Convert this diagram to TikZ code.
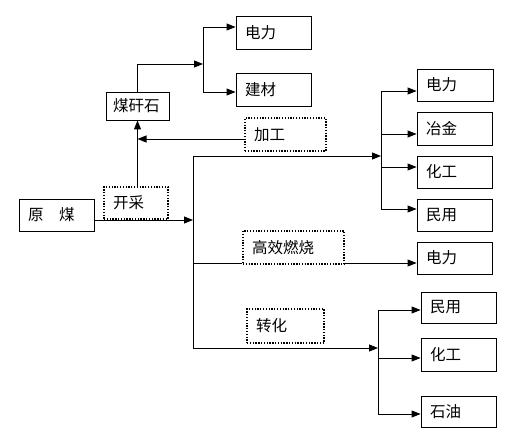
\documentclass[tikz,border=0pt]{standalone}
\usepackage{fontspec}
\setmainfont{Noto Sans CJK SC}
\usetikzlibrary{arrows.meta}
\tikzset{
  bx/.style={draw, line width=0.9pt, inner xsep=9pt, inner ysep=0pt, align=left, font=\fontsize{15.5}{17}\selectfont},
  dbx/.style={bx, line width=1.3pt, dash pattern=on 1.3pt off 1.5pt},
  ln/.style={line width=0.9pt},
  ar/.style={ln, -{Triangle[length=9pt,width=7pt]}}
}
\begin{document}
\begin{tikzpicture}[x=1pt,y=-1pt]
\useasboundingbox (0,0) rectangle (517,443);
% nodes
\node[bx, text width=57pt, minimum height=32pt] (yuan) at (56.5,215) {原\quad 煤};
\node[dbx, text width=46pt, minimum height=32pt] (kc) at (136,203) {开采};
\node[bx, text width=49pt, minimum height=28pt, inner xsep=7pt] (mgs) at (137.5,106) {煤矸石};
\node[bx, text width=57pt, minimum height=33pt] (dl1) at (273.5,32.5) {电力};
\node[bx, text width=57pt, minimum height=33pt] (jc) at (273.5,89.5) {建材};
\node[dbx, text width=63pt, minimum height=33pt] (jg) at (285.5,134.5) {加工};
\node[bx, text width=58pt, minimum height=32pt] (dl2) at (455,85) {电力};
\node[bx, text width=57pt, minimum height=33pt] (yj) at (454.5,128.5) {冶金};
\node[bx, text width=57pt, minimum height=32pt] (hg1) at (454.5,172) {化工};
\node[bx, text width=57pt, minimum height=32pt] (my1) at (454.5,215) {民用};
\node[dbx, text width=83pt, minimum height=33pt] (gx) at (293.5,247.5) {高效燃烧};
\node[bx, text width=57pt, minimum height=32pt] (dl3) at (454.5,258) {电力};
\node[dbx, text width=59pt, minimum height=34pt] (zh) at (285.5,326) {转化};
\node[bx, text width=57pt, minimum height=31pt] (my2) at (458.5,307.5) {民用};
\node[bx, text width=57pt, minimum height=33pt] (hg2) at (458.5,354.5) {化工};
\node[bx, text width=57pt, minimum height=31pt] (sy) at (458.5,411.5) {石油};
% junction coordinates
\coordinate (mA) at (193,156);
\coordinate (mB) at (193,220);
\coordinate (mC) at (193,263);
\coordinate (mD) at (193,348);
\coordinate (tA) at (381,156);
\coordinate (t1) at (381,91);
\coordinate (t2) at (381,134);
\coordinate (t3) at (381,167);
\coordinate (t4) at (381,209);
\coordinate (zA) at (378,348);
\coordinate (z1) at (378,310);
\coordinate (z2) at (378,358);
\coordinate (z3) at (378,414);
\coordinate (jA) at (203,64);
\coordinate (j1) at (203,27);
\coordinate (j2) at (203,92);
\coordinate (gy) at (245,139);
% connectors
\draw[ar] (yuan.east |- mB) -- (mB);
\draw[ln] (mA) -- (mD);
\draw[ar] (mA) -- (tA);
\draw[ln] (t1) -- (t4);
\draw[ar] (t1) -- (dl2.west |- t1);
\draw[ar] (t2) -- (yj.west |- t2);
\draw[ar] (t3) -- (hg1.west |- t3);
\draw[ar] (t4) -- (my1.west |- t4);
\draw[ln] (mC) -- (gx.west |- mC);
\draw[ar] (gx.east |- mC) -- (dl3.west |- mC);
\draw[ar] (mD) -- (zA);
\draw[ln] (z1) -- (z3);
\draw[ar] (z1) -- (my2.west |- z1);
\draw[ar] (z2) -- (hg2.west |- z2);
\draw[ar] (z3) -- (sy.west |- z3);
\draw[ar] (kc.north -| mgs.south) -- (mgs.south);
\draw[ar] (gy) -- (gy -| mgs.south);
\draw[ar] (mgs.north) -- (mgs.north |- jA) -- (jA);
\draw[ln] (j1) -- (j2);
\draw[ar] (j1) -- (dl1.west |- j1);
\draw[ar] (j2) -- (jc.west |- j2);
\end{tikzpicture}
\end{document}
